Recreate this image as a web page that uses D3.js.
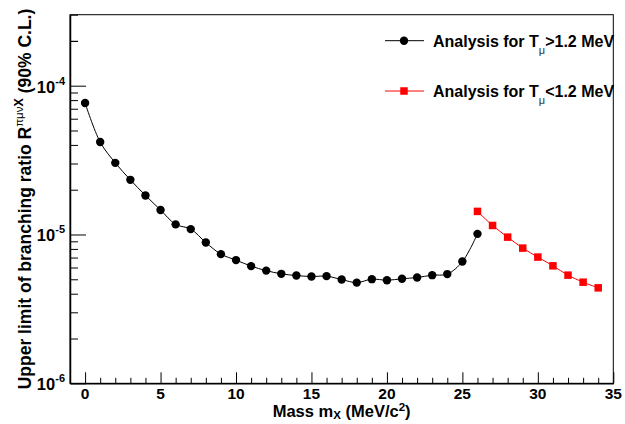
<!DOCTYPE html>
<html>
<head>
<meta charset="utf-8">
<script src="https://cdn.jsdelivr.net/npm/d3@7"></script>
<style>
  body { margin: 0; background: #fff; }
  svg { display: block; }
  text { font-family: "Liberation Sans", Arial, Helvetica, sans-serif; font-weight: bold; fill: #000; }
</style>
</head>
<body>
<svg id="chart" width="625" height="424"></svg>
<script>
// Series 1: Analysis for T_mu > 1.2 MeV
const massHigh = [0,1,2,3,4,5,6,7,8,9,10,11,12,13,14,15,16,17,18,19,20,21,22,23,24,25,26];
const limitHigh = [7.65e-5,4.18e-5,3.03e-5,2.33e-5,1.83e-5,1.46e-5,1.17e-5,1.087e-5,8.83e-6,7.38e-6,
  6.73e-6,6.13e-6,5.72e-6,5.44e-6,5.30e-6,5.22e-6,5.25e-6,4.98e-6,4.75e-6,5.01e-6,
  4.93e-6,5.04e-6,5.14e-6,5.33e-6,5.42e-6,6.58e-6,1.01e-5];
// Series 2: Analysis for T_mu < 1.2 MeV
const massLow = [26,27,28,29,30,31,32,33,34];
const limitLow = [1.43e-5,1.15e-5,9.60e-6,8.10e-6,7.05e-6,6.16e-6,5.33e-6,4.78e-6,4.38e-6];
const xTickLabels = [0,5,10,15,20,25,30,35];
const yTickExponents = [-6,-5,-4];

const svg = d3.select("#chart");
const L = 70, R = 613.3, T = 14.7, B = 383.3;

const x = d3.scaleLinear().domain([-1, 35]).range([L, R]);
const y = d3.scaleLog().domain([1e-6, 3e-4]).range([B, T]);

// frame
svg.append("rect").attr("x", L).attr("y", T).attr("width", R - L).attr("height", B - T)
  .attr("fill", "none").attr("stroke", "#000").attr("stroke-width", 1);

// x axis ticks
const xMinor = d3.range(-1, 36);
const xAxis = d3.axisBottom(x).tickValues(xMinor).tickSize(0).tickFormat("");
const gx = svg.append("g").attr("transform", `translate(0,${B})`).call(xAxis);
gx.select(".domain").attr("stroke", "#000").attr("stroke-width", 1.5);
gx.selectAll(".tick line").remove();
gx.selectAll(".tick").append("line")
  .attr("y1", 0).attr("y2", d => (d % 5 === 0 ? -11 : -5.5))
  .attr("stroke", "#000").attr("stroke-width", 1);
gx.selectAll(".tick text").remove();
svg.append("g").selectAll("text").data(xTickLabels).join("text")
  .attr("x", d => x(d)).attr("y", 398.5)
  .attr("text-anchor", "middle").attr("font-size", 15.5).text(d => d);

// y axis ticks
const yMinor = [];
for (let e = -6; e <= -4; e++) for (let m = 1; m <= 9; m++) {
  const v = m * Math.pow(10, e);
  if (v >= 1e-6 && v <= 3e-4) yMinor.push(v);
}
yMinor.push(1e-4 * 2, 1e-4 * 3);
const yAxis = d3.axisLeft(y).tickValues(yMinor).tickSize(0).tickFormat("");
const gy = svg.append("g").attr("transform", `translate(${L},0)`).call(yAxis);
gy.select(".domain").attr("stroke", "#000").attr("stroke-width", 1.5);
gy.selectAll(".tick line").remove();
gy.selectAll(".tick").append("line")
  .attr("x1", 0).attr("x2", d => {
    const m = d / Math.pow(10, Math.floor(Math.log10(d) + 1e-9));
    return Math.abs(m - 1) < 1e-6 ? 16 : 8;
  })
  .attr("stroke", "#000").attr("stroke-width", 1);
gy.selectAll(".tick text").remove();
const yl = svg.append("g").selectAll("text").data(yTickExponents).join("text")
  .attr("x", 65).attr("y", d => y(Math.pow(10, d)) + 7)
  .attr("text-anchor", "end").attr("font-size", 16.5);
yl.append("tspan").text("10");
yl.append("tspan").attr("font-size", 11).attr("dy", -8).text(d => "-" + Math.abs(d));

// lines
const line = d3.line().x(d => x(d[0])).y(d => y(d[1])).curve(d3.curveCatmullRom.alpha(0.5));
const dHigh = massHigh.map((m, i) => [m, limitHigh[i]]);
const dLow = massLow.map((m, i) => [m, limitLow[i]]);
svg.append("path").attr("d", line(dHigh)).attr("fill", "none").attr("stroke", "#000").attr("stroke-width", 1);
svg.append("path").attr("d", line(dLow)).attr("fill", "none").attr("stroke", "#ff0000").attr("stroke-width", 1);

svg.append("g").selectAll("circle").data(dHigh).join("circle")
  .attr("cx", d => x(d[0])).attr("cy", d => y(d[1])).attr("r", 4.2).attr("fill", "#000");
const sq = 7.5;
svg.append("g").selectAll("rect").data(dLow).join("rect")
  .attr("x", d => x(d[0]) - sq / 2).attr("y", d => y(d[1]) - sq / 2)
  .attr("width", sq).attr("height", sq).attr("fill", "#ff0000");

// legend
const legend = [
  { color: "#000", marker: "circle", sign: ">", y: 40.7 },
  { color: "#ff0000", marker: "square", sign: "<", y: 91 }
];
legend.forEach(it => {
  const g = svg.append("g");
  g.append("line").attr("x1", 385).attr("x2", 424).attr("y1", it.y).attr("y2", it.y)
    .attr("stroke", it.color).attr("stroke-width", 1);
  if (it.marker === "circle") g.append("circle").attr("cx", 404).attr("cy", it.y).attr("r", 4.2).attr("fill", it.color);
  else g.append("rect").attr("x", 404 - sq / 2).attr("y", it.y - sq / 2).attr("width", sq).attr("height", sq).attr("fill", it.color);
  const t = g.append("text").attr("x", 433).attr("y", it.y + 6).attr("font-size", 16);
  t.append("tspan").text("Analysis for T");
  t.append("tspan").attr("font-size", 11).attr("font-weight", "normal").attr("fill", "#333").attr("dy", 7).text("\u03bc");
  t.append("tspan").attr("dy", -7).text(it.sign + "1.2 MeV");
});

// x title
const xt = svg.append("text").attr("x", (L + R) / 2).attr("y", 417).attr("text-anchor", "middle").attr("font-size", 16.5);
xt.append("tspan").text("Mass m");
xt.append("tspan").attr("font-size", 11.5).attr("dy", 2).text("X");
xt.append("tspan").attr("dy", -2).text(" (MeV/c");
xt.append("tspan").attr("font-size", 11.5).attr("dy", -6).text("2");
xt.append("tspan").attr("dy", 6).text(")");

// y title
const yt = svg.append("text").attr("transform", `translate(31,${(T + B) / 2}) rotate(-90)`)
  .attr("text-anchor", "middle").attr("font-size", 17.5);
yt.append("tspan").text("Upper limit of branching ratio R");
yt.append("tspan").attr("font-size", 11.5).attr("font-weight", "normal").attr("dy", -8).text("\u03c0\u03bc\u03bd");
yt.append("tspan").attr("font-size", 12.5).text("X");
yt.append("tspan").attr("dy", 8).text(" (90% C.L.)");
</script>
</body>
</html>
